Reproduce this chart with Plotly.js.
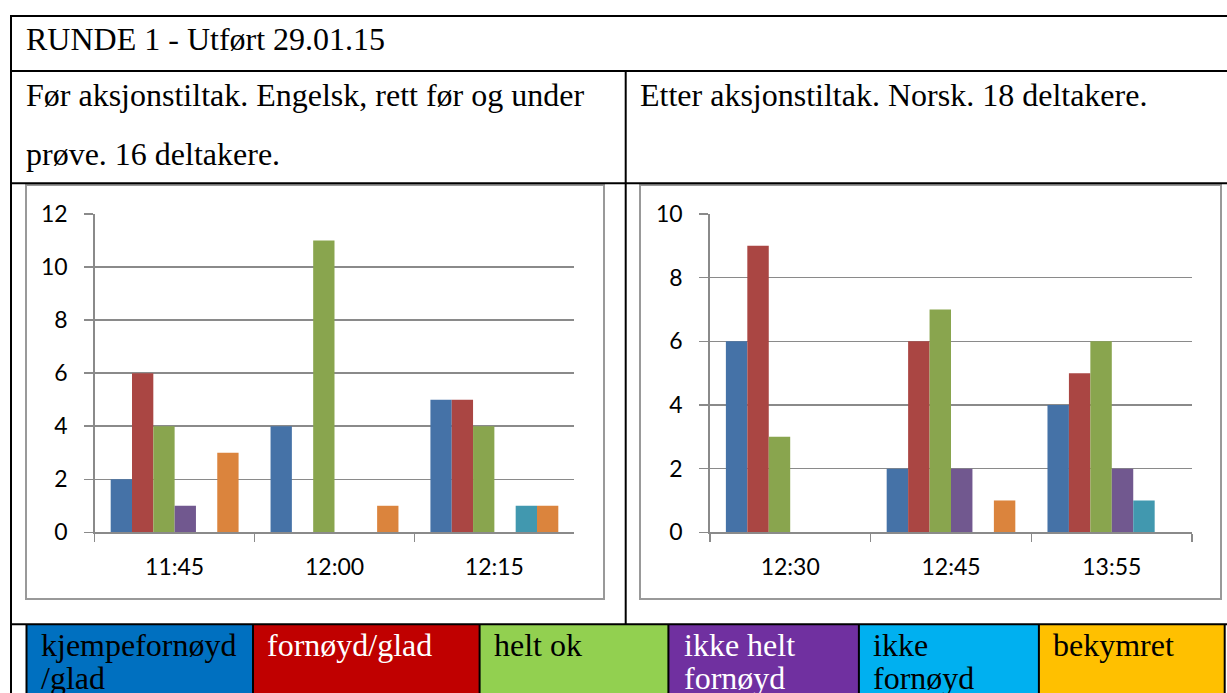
<!DOCTYPE html>
<html>
<head>
<meta charset="utf-8">
<script src="https://cdn.plot.ly/plotly-3.0.1.min.js"></script>
<style>
html,body{margin:0;padding:0;background:#fff;}
#chart{width:1227px;height:693px;}
</style>
</head>
<body>
<div id="chart"></div>
<script>
// ---- data ----
const seriesNames = ['kjempefornøyd/glad', 'fornøyd/glad', 'helt ok', 'ikke helt fornøyd', 'ikke fornøyd', 'bekymret'];
const seriesColors = ['#4572A7', '#AA4643', '#89A54E', '#71588F', '#4198AF', '#DB843D'];

const leftCategories = ['11:45', '12:00', '12:15'];
const leftKjempefornoyd = [2, 4, 5];
const leftFornoyd = [6, 0, 5];
const leftHeltOk = [4, 11, 4];
const leftIkkeHeltFornoyd = [1, 0, 0];
const leftIkkeFornoyd = [0, 0, 1];
const leftBekymret = [3, 1, 1];

const rightCategories = ['12:30', '12:45', '13:55'];
const rightKjempefornoyd = [6, 2, 4];
const rightFornoyd = [9, 6, 5];
const rightHeltOk = [3, 7, 6];
const rightIkkeHeltFornoyd = [0, 2, 2];
const rightIkkeFornoyd = [0, 0, 1];
const rightBekymret = [0, 1, 0];

const titleText = 'RUNDE 1 - Utført 29.01.15';
const leftHeaderLines = ['Før aksjonstiltak. Engelsk, rett før og under', 'prøve. 16 deltakere.'];
const rightHeaderLines = ['Etter aksjonstiltak. Norsk. 18 deltakere.'];

const legendLabels = [['kjempefornøyd', '/glad'], ['fornøyd/glad'], ['helt ok'], ['ikke helt', 'fornøyd'], ['ikke', 'fornøyd'], ['bekymret']];
const legendFill = ['#0070C0', '#C00000', '#92D050', '#7030A0', '#00B0F0', '#FFC000'];
const legendTextColor = ['#000', '#fff', '#000', '#fff', '#000', '#000'];

// ---- layout helpers ----
const W = 1227, H = 693;
const X = px => px / W;
const Y = py => 1 - py / H;

const leftSeries = [leftKjempefornoyd, leftFornoyd, leftHeltOk, leftIkkeHeltFornoyd, leftIkkeFornoyd, leftBekymret];
const rightSeries = [rightKjempefornoyd, rightFornoyd, rightHeltOk, rightIkkeHeltFornoyd, rightIkkeFornoyd, rightBekymret];

const traces = [];
seriesNames.forEach((name, i) => {
  traces.push({type: 'bar', name: name, x: leftCategories, y: leftSeries[i], xaxis: 'x', yaxis: 'y',
    marker: {color: seriesColors[i], line: {width: 0}}, showlegend: false, hoverinfo: 'skip'});
});
seriesNames.forEach((name, i) => {
  traces.push({type: 'bar', name: name, x: rightCategories, y: rightSeries[i], xaxis: 'x2', yaxis: 'y2',
    marker: {color: seriesColors[i], line: {width: 0}}, showlegend: false, hoverinfo: 'skip'});
});

const gray = '#8a8a8a';
const tickFont = {family: 'Lato, "Open Sans", sans-serif', size: 23, color: '#000'};
function xAx(domain) {
  return {domain: domain, type: 'category', showline: true, linecolor: gray, linewidth: 1.5,
    ticks: 'outside', tickson: 'boundaries', ticklen: 8, tickwidth: 1.5, tickcolor: gray,
    showgrid: false, zeroline: false, tickfont: tickFont, ticklabelstandoff: 14, fixedrange: true};
}
function yAx(domain, max, anchor) {
  return {domain: domain, range: [0, max], dtick: 2, showline: true, linecolor: gray, linewidth: 1.5,
    ticks: 'outside', ticklen: 9, tickwidth: 1.5, tickcolor: gray, showgrid: true, gridcolor: gray,
    gridwidth: 1.5, zeroline: false, tickfont: tickFont, ticklabelstandoff: 12, anchor: anchor, fixedrange: true};
}
const yDom = [Y(532.3), Y(214)];

const shapes = [];
function line(x0, y0, x1, y1, color, width) {
  shapes.push({type: 'line', xref: 'paper', yref: 'paper', x0: X(x0), y0: Y(y0), x1: X(x1), y1: Y(y1),
    line: {color: color, width: width}});
}
function rect(x0, y0, x1, y1, fill, lc, lw) {
  shapes.push({type: 'rect', xref: 'paper', yref: 'paper', x0: X(x0), y0: Y(y0), x1: X(x1), y1: Y(y1),
    fillcolor: fill, line: {color: lc, width: lw}, layer: 'below'});
}

// chart boxes
rect(26, 185, 604, 599, 'rgba(0,0,0,0)', '#999999', 2);
rect(640, 185, 1221, 599, 'rgba(0,0,0,0)', '#999999', 2);

// legend cells
const cellEdges = [26.5, 253, 479.6, 668.4, 858.9, 1038.9, 1224.7];
for (let i = 0; i < 6; i++) {
  rect(cellEdges[i], 624.3, cellEdges[i + 1], 700, legendFill[i], 'rgba(0,0,0,0)', 0);
}
cellEdges.forEach(x => line(x, 624.3, x, 700, '#000', 2));

// table lines
line(11, 16, 1230, 16, '#000', 2);
line(11, 71, 1230, 71, '#000', 2);
line(11, 183.3, 1230, 183.3, '#000', 2);
line(11, 624.3, 1230, 624.3, '#000', 2);
line(11, 15, 11, 700, '#000', 2);
line(625.7, 71, 625.7, 624.3, '#000', 2);

const serif = {family: '"Liberation Serif", "Times New Roman", serif', size: 32, color: '#000'};
const annotations = [];
function txt(text, x, yc, font) {
  annotations.push({text: text, xref: 'paper', yref: 'paper', x: X(x), y: Y(yc), xanchor: 'left',
    yanchor: 'middle', showarrow: false, font: font, align: 'left'});
}
txt(titleText, 24, 39, serif);
txt(leftHeaderLines[0], 24, 95, serif);
txt(leftHeaderLines[1], 24, 154, serif);
txt(rightHeaderLines[0], 638, 95, serif);

const textX = [39, 265, 492, 682, 871, 1051];
legendLabels.forEach((lines, i) => {
  lines.forEach((t, j) => {
    txt(t, textX[i], 645 + j * 33, Object.assign({}, serif, {color: legendTextColor[i]}));
  });
});

const layout = {
  width: W, height: H, autosize: false,
  margin: {l: 0, r: 0, t: 0, b: 0},
  paper_bgcolor: '#fff', plot_bgcolor: 'rgba(0,0,0,0)',
  barmode: 'group', bargap: 0.2, bargroupgap: 0,
  showlegend: false,
  xaxis: xAx([X(94.7), X(574.3)]),
  yaxis: yAx(yDom, 12, 'x'),
  xaxis2: Object.assign(xAx([X(709.8), X(1192.2)]), {anchor: 'y2'}),
  yaxis2: yAx(yDom, 10, 'x2'),
  shapes: shapes,
  annotations: annotations
};
layout.xaxis.anchor = 'y';

Plotly.newPlot('chart', traces, layout, {displayModeBar: false, staticPlot: true});
</script>
</body>
</html>
